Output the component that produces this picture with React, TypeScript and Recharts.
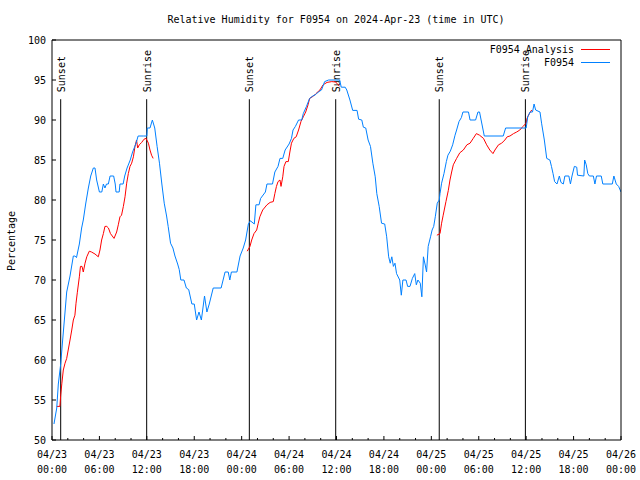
import React from "react";
import { LineChart, Line, XAxis, YAxis, ReferenceLine } from "recharts";

// Hours since 2024-04-23 00:00 UTC
const stationTimes = [
  0.25, 0.6, 0.8, 1.1, 1.35, 1.65, 1.86, 2.28, 2.7, 2.9, 3.1, 3.46, 3.75, 3.96, 4.26, 4.6, 4.9, 5.23, 5.44, 5.65,
  6.0, 6.3, 6.5, 6.7, 6.9, 7.13, 7.35, 7.8, 8.0, 8.1, 8.5, 8.6, 9.0, 9.2, 9.5, 9.9, 10.2, 10.6, 10.9, 11.6,
  12.0, 12.06, 12.4, 12.7, 13.0, 13.3, 13.6, 13.9, 14.2, 14.5, 14.7, 15.0, 15.3, 15.56, 15.9, 16.1, 16.3, 16.7, 17.0, 17.3,
  17.7, 18.0, 18.3, 18.6, 18.9, 19.3, 19.45, 19.6, 19.9, 20.4, 21.4, 21.9, 22.3, 22.5, 22.7, 23.4, 23.8, 24.2, 24.5, 24.85,
  25.1, 25.6, 25.8, 26.2, 26.4, 27.0, 27.2, 27.9, 28.2, 28.6, 28.85, 29.2, 29.5, 30.0, 30.3, 30.5, 30.8, 31.2, 31.6, 31.8,
  32.2, 32.6, 33.0, 33.4, 33.7, 34.1, 34.5, 35.0, 36.4, 36.6, 37.1, 37.3, 37.7, 38.05, 38.6, 38.8, 39.2, 39.4, 39.7, 40.0,
  40.3, 40.6, 40.9, 41.1, 41.4, 41.7, 42.1, 42.35, 42.6, 42.8, 43.0, 43.2, 43.4, 43.6, 44.0, 44.2, 44.4, 44.8, 45.0, 45.3,
  45.6, 45.9, 46.1, 46.3, 46.6, 46.8, 47.0, 47.2, 47.4, 47.6, 47.9, 48.1, 48.3, 48.5, 48.75, 49.0, 49.1, 49.3, 49.6, 49.9,
  50.1, 50.4, 50.7, 51.0, 51.2, 51.5, 51.8, 52.0, 52.7, 52.9, 53.6, 53.9, 54.1, 54.3, 54.7, 57.1, 57.4, 60.0, 60.2, 60.5,
  60.8, 61.0, 61.2, 61.75, 61.95, 62.3, 62.6, 63.0, 63.2, 63.4, 63.6, 63.9, 64.2, 64.4, 64.7, 64.9, 65.4, 65.6, 65.8, 66.1,
  66.4, 66.5, 67.3, 67.4, 67.6, 67.8, 68.0, 68.5, 68.7, 68.9, 69.5, 69.7, 70.9, 71.1, 71.4, 71.7, 72.0,
];
const stationValues = [
  52, 54, 57, 59.5, 62.5, 66, 68.5, 70.5, 73, 73, 72.8, 74.5, 76.5, 77.5, 79.5, 81.5, 83, 84, 84, 82.5,
  81, 81, 82, 81.5, 82, 82, 83, 83, 82, 81, 81, 82, 82, 83, 84, 85, 86, 87, 88, 88,
  88, 89, 89, 90, 89, 86.7, 84.6, 82, 79.6, 78, 76.7, 74.6, 74, 73, 72, 71.3, 70, 70, 69, 68.8,
  67, 67, 65, 66, 65, 68, 67, 66, 67, 69, 69, 71, 71, 70, 71, 71, 73, 74, 75, 77,
  77.4, 77, 79.4, 79.4, 80.2, 81, 82, 82, 83.5, 84.2, 85.2, 85.2, 86.25, 87, 87.7, 88.75, 89.2, 90, 90, 90.8,
  91.7, 92.7, 93, 93.2, 93.5, 93.75, 94.8, 95, 95, 94.1, 94.1, 93.75, 92.5, 91.2, 91.2, 90.1, 90, 89.1, 89, 87.5,
  86.7, 84.6, 82.9, 80.8, 79.2, 77.1, 77, 75.4, 72.9, 72.1, 72.9, 71.7, 72.1, 70.8, 70, 68.1, 70, 70, 69.2, 69.2,
  70.2, 70.8, 69.4, 70, 69.6, 67.9, 72.9, 72, 71, 74.2, 75.4, 76.25, 76.7, 77.9, 79.6, 80, 80.8, 82.1, 83.3, 84.8,
  85.6, 86.1, 86.9, 88.1, 88.75, 89.8, 90.3, 91, 91, 90, 90, 91, 91, 90, 88, 88, 89, 89, 90.4, 91,
  91, 92, 91.25, 91, 89.6, 87.5, 85.2, 85, 84.2, 83.3, 82.3, 82, 83, 82.2, 82, 83, 83, 82, 83, 84.2,
  84.1, 83.1, 83, 85, 84.4, 83.3, 83, 83, 82, 83, 83, 82, 82, 83, 82, 81.7, 81,
];

const analysisTimes = [
  0.6, 1.0, 1.1, 1.25, 1.43, 1.65, 1.86, 2.05, 2.28, 2.5, 2.7, 2.9, 3.04, 3.2, 3.46, 3.6, 3.8, 3.96, 4.18, 4.4,
  4.72, 5.0, 5.44, 5.86, 6.07, 6.28, 6.5, 6.7, 6.93, 7.14, 7.4, 7.85, 8.18, 8.39, 8.6, 8.8, 9.03, 9.24, 9.45, 9.66,
  9.87, 10.08, 10.3, 10.5, 10.7, 10.84, 11.05, 11.35, 11.65, 11.9, 12.2, 12.4, 12.6, 12.8,
  18.0,
  24.7, 25.05, 25.27, 25.56, 25.9, 26.1, 26.3, 26.66, 27.2, 27.6, 28.0, 28.2, 28.4, 28.6, 28.85, 28.98, 29.2, 29.36, 29.6, 29.9,
  30.1, 30.3, 30.6, 30.9, 31.2, 31.5, 31.8, 32.1, 32.4, 32.6, 33.1, 33.4, 33.9, 34.3, 34.8, 35.4, 35.9, 36.2, 36.4,
  42.0,
  48.7, 49.1, 49.3, 49.5, 49.85, 50.15, 50.36, 50.57, 50.78, 51.2, 51.6, 52.05, 52.5, 52.9, 53.3, 53.7, 54.1, 54.6, 55.0, 55.4,
  55.8, 56.05, 56.5, 56.9, 57.3, 57.6, 57.95, 58.4, 58.8, 59.2, 59.6, 60.0, 60.1, 60.4, 60.7,
];
const analysisValues: (number | null)[] = [
  54.2, 54.2, 55.6, 57.1, 58.75, 59.6, 60.2, 61.25, 62.5, 63.75, 65, 65.6, 67.1, 68.4, 70.4, 71.7, 71.7, 71, 72.1, 72.9,
  73.6, 73.5, 73.25, 72.9, 73.75, 75, 75.8, 76.7, 76.7, 76.5, 75.8, 75.2, 76, 76.9, 77.9, 78.1, 79.2, 80.4, 82.1, 83.3,
  84.2, 84.6, 85.4, 86.7, 87.5, 86.5, 86.9, 87.2, 87.6, 87.7, 87.1, 86.25, 85.6, 85.2,
  null,
  73.6, 74.2, 75, 75.8, 76.25, 77.1, 77.9, 78.75, 79.4, 79.7, 79.8, 80.8, 81.7, 82.3, 82.5, 81.7, 82.9, 84.2, 84.8, 84.8,
  86, 87.1, 87.7, 87.9, 88.75, 89.8, 90.4, 91, 91.9, 92.7, 93, 93.3, 93.75, 94.4, 94.7, 94.8, 94.75, 94.4, 94.2,
  null,
  75.6, 75.8, 77.1, 78.1, 79.8, 81.2, 82.5, 83.5, 84.4, 85.2, 85.9, 86.25, 86.9, 87.1, 87.7, 88.3, 88.1, 87.7, 86.9, 86.25,
  85.8, 86.25, 86.9, 87.1, 87.5, 87.9, 88, 88.3, 88.5, 88.75, 89.2, 89.6, 90.2, 90.8, 91.25,
];

const sunsetTimes = [1.1, 24.97, 49.0];
const sunriseTimes = [11.98, 35.9, 59.9];

const xTicks = [0, 2, 4, 6, 8, 10, 12, 14, 16, 18, 20, 22, 24, 26, 28, 30, 32, 34, 36, 38, 40, 42, 44, 46, 48, 50, 52, 54, 56, 58, 60, 62, 64, 66, 68, 70, 72];
const yTicks = [50, 55, 60, 65, 70, 75, 80, 85, 90, 95, 100];

const stationData = stationTimes.map((t, i) => ({ t, v: stationValues[i] }));
const analysisData = analysisTimes.map((t, i) => ({ t, v: analysisValues[i] }));

const FONT = "'DejaVu Sans Mono', monospace";
const FS = 10;
const RED = "#ff0000";
const BLUE = "#0080ff";

const pad = (n: number) => (n < 10 ? "0" + n : "" + n);

const BottomTick = (props: any) => {
  const { x, y, payload } = props;
  const v = payload.value as number;
  const major = v % 6 === 0;
  const day = 23 + Math.floor(v / 24);
  const hour = v % 24;
  return (
    <g>
      <line x1={x} x2={x} y1={y} y2={y - (major ? 4 : 2)} stroke="#000" />
      {major && (
        <text x={x} y={y + 18} textAnchor="middle" fontFamily={FONT} fontSize={FS} fill="#000">
          {"04/" + day}
        </text>
      )}
      {major && (
        <text x={x} y={y + 33} textAnchor="middle" fontFamily={FONT} fontSize={FS} fill="#000">
          {pad(hour) + ":00"}
        </text>
      )}
    </g>
  );
};

const TopTick = (props: any) => {
  const { x, y, payload } = props;
  const v = payload.value as number;
  const major = v % 6 === 0;
  return <line x1={x} x2={x} y1={y} y2={y + (major ? 4 : 2)} stroke="#000" />;
};

const LeftTick = (props: any) => {
  const { x, y, payload } = props;
  return (
    <g>
      <line x1={x} x2={x + 4} y1={y} y2={y} stroke="#000" />
      <text x={x - 6} y={y + 4} textAnchor="end" fontFamily={FONT} fontSize={FS} fill="#000">
        {payload.value}
      </text>
    </g>
  );
};

const RightTick = (props: any) => {
  const { x, y } = props;
  return <line x1={x} x2={x - 4} y1={y} y2={y} stroke="#000" />;
};

const makeLabel = (text: string) => (props: any) => {
  const vb = props.viewBox || {};
  const lx = (vb.x ?? 0) + 4;
  const ly = (vb.y ?? 99) - 7;
  return (
    <text
      x={lx}
      y={ly}
      transform={`rotate(-90 ${lx} ${ly})`}
      textAnchor="start"
      fontFamily={FONT}
      fontSize={FS}
      fill="#000"
    >
      {text}
    </text>
  );
};

export default function App() {
  return (
    <div style={{ position: "absolute", left: 0, top: 0, width: 640, height: 480, background: "#fff" }}>
      <LineChart width={640} height={480} margin={{ top: 0, right: 0, bottom: 0, left: 0 }}>
        <XAxis
          dataKey="t"
          type="number"
          domain={[0, 72]}
          ticks={xTicks}
          allowDataOverflow
          height={40}
          tickSize={0}
          tickMargin={0}
          tickLine={false}
          axisLine={{ stroke: "#000" }}
          tick={<BottomTick />}
          interval={0}
        />
        <XAxis
          xAxisId="top"
          orientation="top"
          dataKey="t"
          type="number"
          domain={[0, 72]}
          ticks={xTicks}
          height={40}
          tickSize={0}
          tickMargin={0}
          tickLine={false}
          axisLine={{ stroke: "#000" }}
          tick={<TopTick />}
          interval={0}
        />
        <YAxis
          type="number"
          domain={[50, 100]}
          ticks={yTicks}
          width={52}
          tickSize={0}
          tickMargin={0}
          tickLine={false}
          axisLine={{ stroke: "#000" }}
          tick={<LeftTick />}
          interval={0}
          allowDataOverflow
        />
        <YAxis
          yAxisId="right"
          orientation="right"
          type="number"
          domain={[50, 100]}
          ticks={yTicks}
          width={19}
          tickSize={0}
          tickMargin={0}
          tickLine={false}
          axisLine={{ stroke: "#000" }}
          tick={<RightTick />}
          interval={0}
        />
        {sunsetTimes.map((t) => (
          <ReferenceLine
            key={"ss" + t}
            segment={[{ x: t, y: 50 }, { x: t, y: 92.6 }]}
            stroke="#000"
            strokeWidth={1}
            label={makeLabel("Sunset")}
          />
        ))}
        {sunriseTimes.map((t) => (
          <ReferenceLine
            key={"sr" + t}
            segment={[{ x: t, y: 50 }, { x: t, y: 92.6 }]}
            stroke="#000"
            strokeWidth={1}
            label={makeLabel("Sunrise")}
          />
        ))}
        <Line
          data={analysisData}
          dataKey="v"
          type="linear"
          stroke={RED}
          strokeWidth={1}
          dot={false}
          isAnimationActive={false}
          connectNulls={false}
        />
        <Line
          data={stationData}
          dataKey="v"
          type="linear"
          stroke={BLUE}
          strokeWidth={1}
          dot={false}
          isAnimationActive={false}
        />
      </LineChart>
      <svg width={640} height={480} style={{ position: "absolute", left: 0, top: 0, pointerEvents: "none" }}>
        <text x={336} y={23} textAnchor="middle" fontFamily={FONT} fontSize={FS} fill="#000">
          Relative Humidity for F0954 on 2024-Apr-23 (time in UTC)
        </text>
        <text
          x={15}
          y={241}
          transform="rotate(-90 15 241)"
          textAnchor="middle"
          fontFamily={FONT}
          fontSize={FS}
          fill="#000"
        >
          Percentage
        </text>
        <text x={574} y={53} textAnchor="end" fontFamily={FONT} fontSize={FS} fill="#000">
          F0954 Analysis
        </text>
        <line x1={581} x2={610} y1={49.5} y2={49.5} stroke={RED} />
        <text x={574} y={66} textAnchor="end" fontFamily={FONT} fontSize={FS} fill="#000">
          F0954
        </text>
        <line x1={581} x2={610} y1={62.5} y2={62.5} stroke={BLUE} />
      </svg>
    </div>
  );
}
